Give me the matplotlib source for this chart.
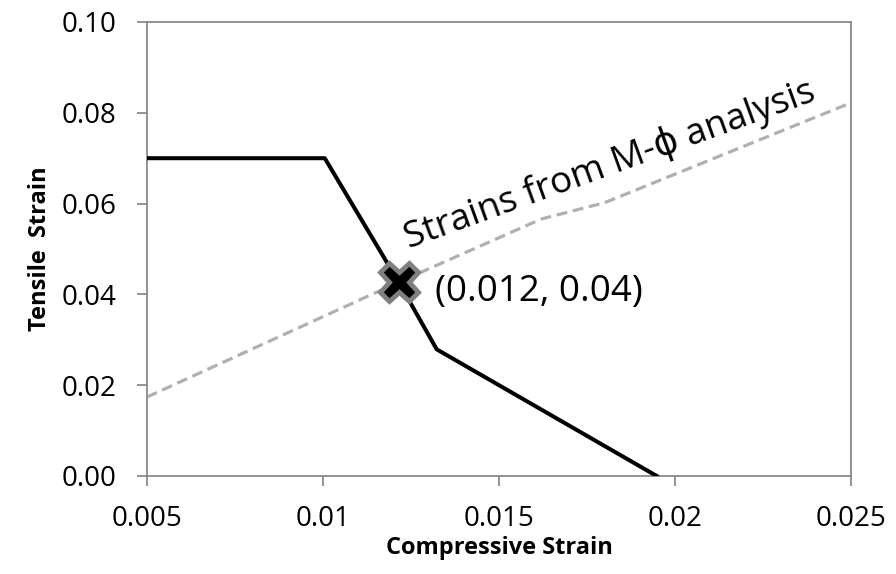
import matplotlib
matplotlib.use("Agg")
import matplotlib.pyplot as plt

# Daten
limite_x = [0.005, 0.01005, 0.01215, 0.01323, 0.01948]
limite_y = [0.070, 0.070, 0.0427, 0.0279, 0.0]

mphi_x = [0.005, 0.01215, 0.0162, 0.018, 0.025]
mphi_y = [0.0174, 0.0427, 0.0566, 0.0602, 0.0822]

ponto_x = [0.01215]
ponto_y = [0.0427]

xticks = [0.005, 0.01, 0.015, 0.02, 0.025]
xtick_labels = ["0.005", "0.01", "0.015", "0.02", "0.025"]
yticks = [0.0, 0.02, 0.04, 0.06, 0.08, 0.10]
ytick_labels = ["0.00", "0.02", "0.04", "0.06", "0.08", "0.10"]

plt.rcParams['font.family'] = ['Open Sans', 'DejaVu Sans']

cinza = "#898989"

fig = plt.figure(figsize=(8.96, 5.74), dpi=100)
ax = fig.add_axes([147/896, 1 - 476/574, 704/896, 454/574])

ax.plot(mphi_x, mphi_y, color="#b0b0b0", lw=2.3, dashes=(3.4, 1.8), zorder=2)
ax.plot(limite_x, limite_y, color="black", lw=2.9, zorder=3)
ax.plot(ponto_x, ponto_y, marker="X", markersize=28, markerfacecolor="black",
        markeredgecolor="#808080", markeredgewidth=3.5, linestyle="none", zorder=4)

ax.text(0.01245, 0.0500, "Strains from M-\u03d5 analysis", fontsize=26.5,
        rotation=20, rotation_mode="anchor", ha="left", va="baseline")
ax.text(0.01318, 0.0385, "(0.012, 0.04)", fontsize=26.5, ha="left", va="baseline")

ax.set_xlim(0.005, 0.025)
ax.set_ylim(0.0, 0.10)
ax.set_xticks(xticks)
ax.set_xticklabels(xtick_labels)
ax.set_yticks(yticks)
ax.set_yticklabels(ytick_labels)

for s in ax.spines.values():
    s.set_color(cinza)
    s.set_linewidth(1.3)

ax.tick_params(direction="out", length=7, width=1.3, color=cinza, labelsize=20)
ax.tick_params(axis="y", pad=15)
ax.tick_params(axis="x", pad=14)

ax.set_xlabel("Compressive Strain", fontsize=17, fontweight="bold", labelpad=2)
ax.set_ylabel("Tensile  Strain", fontsize=17, fontweight="bold", labelpad=7)

fig.savefig("out.png", dpi=100)
